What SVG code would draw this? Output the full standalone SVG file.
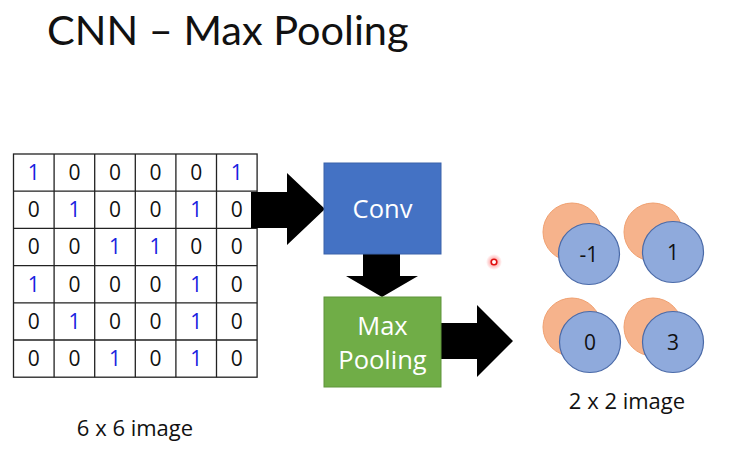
<svg xmlns="http://www.w3.org/2000/svg" width="738" height="465" viewBox="0 0 738 465">
  <defs>
    <style>
      .t { font-family: Lato, "Open Sans", "Liberation Sans", sans-serif; }
      .cell { font-family: "Open Sans", "Noto Sans", "Liberation Sans", sans-serif; font-size: 21px; text-anchor: middle; fill: #111; }
      .one { fill: #1a22e0; }
      .grid { fill: none; stroke: #222; stroke-width: 1.3; }
      .arrow { fill: #000; }
      .orange { fill: #f6b38c; stroke: #f0a070; stroke-width: 1; }
      .blue { fill: #8faadc; stroke: #4a6aa8; stroke-width: 1.2; }
      .num { font-family: "Open Sans", "Noto Sans", "Liberation Sans", sans-serif; font-size: 21px; text-anchor: middle; fill: #111; }
      .label { font-family: "Open Sans", "Noto Sans", "Liberation Sans", sans-serif; font-size: 22px; text-anchor: middle; fill: #111; }
      .boxtext { font-family: "Open Sans", "Noto Sans", "Liberation Sans", sans-serif; font-size: 25.5px; text-anchor: middle; fill: #fff; }
    </style>
    <radialGradient id="glow">
      <stop offset="0" stop-color="#ff2020" stop-opacity="0.6"/>
      <stop offset="1" stop-color="#ff2020" stop-opacity="0"/>
    </radialGradient>
  </defs>

  <rect width="738" height="465" fill="#fff"/>

  <!-- title -->
  <text class="t" x="47" y="45" font-size="41.5" fill="#111">CNN – Max Pooling</text>

  <!-- 6x6 input image -->
  <g id="input-image">
    <rect class="grid" x="13.5" y="154" width="243.6" height="223.2"/>
    <path class="grid" d="M54.1 154V377.2M94.7 154V377.2M135.3 154V377.2M175.9 154V377.2M216.5 154V377.2M13.5 191.2H257.1M13.5 228.4H257.1M13.5 265.6H257.1M13.5 302.8H257.1M13.5 340H257.1"/>
    <g>
      <text class="cell one" x="33.8" y="180">1</text><text class="cell" x="74.4" y="180">0</text><text class="cell" x="115" y="180">0</text><text class="cell" x="155.6" y="180">0</text><text class="cell" x="196.2" y="180">0</text><text class="cell one" x="236.8" y="180">1</text>
      <text class="cell" x="33.8" y="217">0</text><text class="cell one" x="74.4" y="217">1</text><text class="cell" x="115" y="217">0</text><text class="cell" x="155.6" y="217">0</text><text class="cell one" x="196.2" y="217">1</text><text class="cell" x="236.8" y="217">0</text>
      <text class="cell" x="33.8" y="254">0</text><text class="cell" x="74.4" y="254">0</text><text class="cell one" x="115" y="254">1</text><text class="cell one" x="155.6" y="254">1</text><text class="cell" x="196.2" y="254">0</text><text class="cell" x="236.8" y="254">0</text>
      <text class="cell one" x="33.8" y="292">1</text><text class="cell" x="74.4" y="292">0</text><text class="cell" x="115" y="292">0</text><text class="cell" x="155.6" y="292">0</text><text class="cell one" x="196.2" y="292">1</text><text class="cell" x="236.8" y="292">0</text>
      <text class="cell" x="33.8" y="329">0</text><text class="cell one" x="74.4" y="329">1</text><text class="cell" x="115" y="329">0</text><text class="cell" x="155.6" y="329">0</text><text class="cell one" x="196.2" y="329">1</text><text class="cell" x="236.8" y="329">0</text>
      <text class="cell" x="33.8" y="366">0</text><text class="cell" x="74.4" y="366">0</text><text class="cell one" x="115" y="366">1</text><text class="cell" x="155.6" y="366">0</text><text class="cell one" x="196.2" y="366">1</text><text class="cell" x="236.8" y="366">0</text>
    </g>
    <text class="label" x="135" y="436">6 x 6 image</text>
  </g>

  <!-- block arrows -->
  <g id="connectors">
    <polygon class="arrow" points="251,192 287,192 287,173 325,209 287,245 287,228 251,228"/>
    <polygon class="arrow" points="363,254 400,254 400,276 418,276 382,297 346,276 363,276"/>
    <polygon class="arrow" points="441,323 477,323 477,305 513,341 477,377 477,359 441,359"/>
  </g>

  <g id="conv">
    <rect x="324" y="163" width="117" height="91" fill="#4472c4" stroke="#3a62aa" stroke-width="1"/>
    <text class="boxtext" x="382.5" y="218">Conv</text>
  </g>

  <g id="max-pooling">
    <rect x="324" y="297" width="117" height="90" fill="#70ad47" stroke="#5f943b" stroke-width="1"/>
    <text class="boxtext" x="382.5" y="335">Max</text>
    <text class="boxtext" x="382.5" y="369">Pooling</text>
  </g>

  <!-- 2x2 output image -->
  <g id="output-image">
    <circle class="orange" cx="572" cy="232" r="29"/>
    <circle class="blue" cx="589" cy="254" r="30.5"/>
    <text class="num" x="589" y="262">-1</text>

    <circle class="orange" cx="653" cy="232" r="29"/>
    <circle class="blue" cx="673" cy="252" r="30.5"/>
    <text class="num" x="673" y="260">1</text>

    <circle class="orange" cx="572" cy="327" r="29"/>
    <circle class="blue" cx="590" cy="342" r="30.5"/>
    <text class="num" x="590" y="350">0</text>

    <circle class="orange" cx="653" cy="327" r="29"/>
    <circle class="blue" cx="673" cy="342" r="30.5"/>
    <text class="num" x="673" y="350">3</text>

    <text class="label" x="627" y="409">2 x 2 image</text>
  </g>

  <!-- pointer -->
  <g id="pointer">
    <circle cx="494" cy="262" r="8" fill="url(#glow)"/>
    <circle cx="494" cy="262" r="2.8" fill="#fff" stroke="#e01010" stroke-width="1.6"/>
  </g>
</svg>
